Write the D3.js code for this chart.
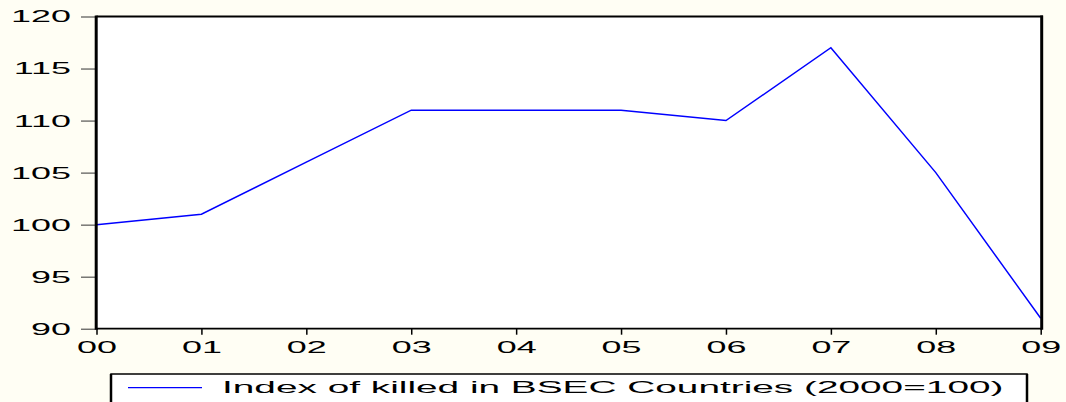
<!DOCTYPE html>
<html><head><meta charset="utf-8">
<script src="https://cdn.jsdelivr.net/npm/d3@7"></script>
<style>html,body{margin:0;padding:0;background:#FFFEF4;} svg{display:block}</style>
</head><body>
<svg id="c" width="1066" height="402"></svg>
<script>
const years = ["00","01","02","03","04","05","06","07","08","09"];
const values = [100,101,106,111,111,111,110,117,105,91];
const yTicks = [90,95,100,105,110,115,120];
const legendLabel = "Index of killed in BSEC Countries (2000=100)";

const FONT = "'Liberation Sans', Arial, sans-serif";
const svg = d3.select("#c");
const L = 96.5, R = 1041.5, T = 16.5, B = 328.7;
const x = d3.scalePoint().domain(years).range([L, 1040.7]);
const y = d3.scaleLinear().domain([90, 120]).range([B, T]);

svg.append("rect").attr("x", L).attr("y", T).attr("width", R - L).attr("height", B - T).attr("fill", "#fff");

svg.append("path").datum(values)
  .attr("d", d3.line().x((d, i) => x(years[i])).y(d => y(d)))
  .attr("fill", "none").attr("stroke", "#0000ff").attr("stroke-width", 1.5);

// measure stretch factor
const probe = svg.append("text").attr("font-family", FONT).attr("font-size", 17).text("120");
const sx = 60 / probe.node().getComputedTextLength();
probe.remove();

// Y axis
const gy = svg.append("g").attr("transform", `translate(96,0)`)
  .call(d3.axisLeft(y).tickValues(yTicks).tickSize(15).tickPadding(10).tickFormat(d3.format("d")));
gy.select(".domain").remove();
gy.selectAll(".tick line").attr("stroke", "#333").attr("stroke-width", 1);
gy.selectAll(".tick text").attr("font-family", FONT).attr("font-size", 17).attr("fill", "#000")
  .attr("x", -25 / sx).attr("transform", `scale(${sx},1)`);

// X axis
const gx = svg.append("g").attr("transform", `translate(0,${B})`)
  .call(d3.axisBottom(x).tickSize(6).tickPadding(6.3));
gx.select(".domain").remove();
gx.selectAll(".tick line").attr("stroke", "#000").attr("stroke-width", 1.5);
gx.selectAll(".tick text").attr("font-family", FONT).attr("font-size", 17).attr("fill", "#000")
  .attr("transform", `scale(${sx},1)`)
  .each(function() {
    // keep centred: tick group already translated; scaling around 0 keeps x=0
  });

// Frame
svg.append("line").attr("x1", L).attr("x2", 1043).attr("y1", T).attr("y2", T).attr("stroke", "#000").attr("stroke-width", 2);
svg.append("line").attr("x1", L).attr("x2", R).attr("y1", B).attr("y2", B).attr("stroke", "#000").attr("stroke-width", 1.7);
svg.append("line").attr("x1", 96.2).attr("x2", 96.2).attr("y1", T - 1).attr("y2", B + 1).attr("stroke", "#000").attr("stroke-width", 3);
svg.append("line").attr("x1", 1041.7).attr("x2", 1041.7).attr("y1", T - 1).attr("y2", B + 1).attr("stroke", "#000").attr("stroke-width", 3);

// Legend
const lg = svg.append("g");
lg.append("rect").attr("x", 111).attr("y", 374).attr("width", 916).attr("height", 60)
  .attr("fill", "#fff").attr("stroke", "#000").attr("stroke-width", 1.5);
lg.append("line").attr("x1", 111).attr("x2", 111).attr("y1", 374).attr("y2", 402).attr("stroke", "#000").attr("stroke-width", 2.5);
lg.append("line").attr("x1", 1027).attr("x2", 1027).attr("y1", 374).attr("y2", 402).attr("stroke", "#000").attr("stroke-width", 2.5);
lg.append("line").attr("x1", 128).attr("x2", 202).attr("y1", 387.7).attr("y2", 387.7).attr("stroke", "#0000ff").attr("stroke-width", 1.2);
const lt = lg.append("text").attr("font-family", FONT).attr("font-size", 17).attr("fill", "#000").text(legendLabel);
const lsx = 782 / lt.node().getComputedTextLength();
lt.attr("transform", `translate(222,393) scale(${lsx},1)`);
</script>
</body></html>
